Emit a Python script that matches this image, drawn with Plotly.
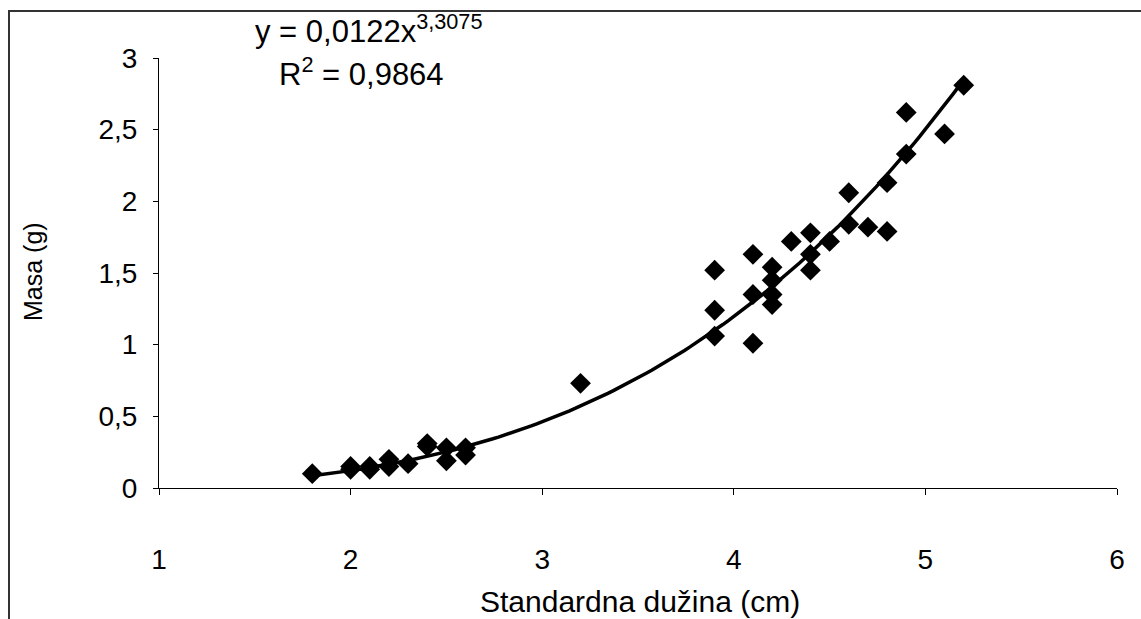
import numpy as np
import plotly.graph_objects as go

# Observed data: standard length (cm) vs mass (g)
length_cm = [1.8, 2.0, 2.0, 2.1, 2.1, 2.2, 2.2, 2.3, 2.4, 2.4, 2.5, 2.5, 2.6, 2.6,
             3.2,
             3.9, 3.9, 3.9,
             4.1, 4.1, 4.1,
             4.2, 4.2, 4.2, 4.2,
             4.3,
             4.4, 4.4, 4.4,
             4.5,
             4.6, 4.6,
             4.7,
             4.8, 4.8,
             4.9, 4.9,
             5.1,
             5.2]
mass_g = [0.10, 0.15, 0.13, 0.15, 0.13, 0.20, 0.15, 0.17, 0.31, 0.29, 0.28, 0.19, 0.28, 0.23,
          0.73,
          1.52, 1.24, 1.06,
          1.63, 1.35, 1.01,
          1.54, 1.45, 1.35, 1.28,
          1.72,
          1.78, 1.63, 1.52,
          1.72,
          2.06, 1.84,
          1.82,
          2.13, 1.79,
          2.62, 2.33,
          2.47,
          2.81]

# Power trendline as shown on chart
coef_a = 0.0122
coef_b = 3.3075
trend_x = np.linspace(min(length_cm), max(length_cm), 120)
trend_y = coef_a * trend_x ** coef_b

x_ticks = [1, 2, 3, 4, 5, 6]
x_ticktext = ["1", "2", "3", "4", "5", "6"]
y_ticks = [0, 0.5, 1, 1.5, 2, 2.5, 3]
y_ticktext = ["0", "0,5", "1", "1,5", "2", "2,5", "3"]

FONT = "Liberation Sans, Arial, sans-serif"
W, H = 1141, 619
L, R, T, B = 159, 24, 58, 131
PW, PH = W - L - R, H - T - B


def px_x(px):
    return (px - L) / PW


def px_y(py):
    return (H - B - py) / PH


fig = go.Figure()
fig.add_trace(go.Scatter(x=trend_x, y=trend_y, mode="lines",
                         line=dict(color="black", width=3.5), showlegend=False,
                         hoverinfo="skip"))
fig.add_trace(go.Scatter(x=length_cm, y=mass_g, mode="markers",
                         marker=dict(symbol="diamond", size=16, color="black"),
                         showlegend=False))

fig.update_layout(
    width=W, height=H,
    margin=dict(l=L, r=R, t=T, b=B),
    paper_bgcolor="white", plot_bgcolor="white",
    font=dict(family=FONT, size=25, color="black"),
    xaxis=dict(range=[1, 6], tickvals=x_ticks, ticktext=x_ticktext,
               showgrid=False, zeroline=False, showline=True, linecolor="black",
               linewidth=1, ticks="outside", ticklen=6, tickcolor="black",
               ticklabelstandoff=40, tickfont=dict(size=28)),
    yaxis=dict(range=[0, 3], tickvals=y_ticks, ticktext=y_ticktext,
               showgrid=False, zeroline=False, showline=True, linecolor="black",
               linewidth=1, ticks="outside", ticklen=5, tickcolor="black",
               ticklabelstandoff=10, tickfont=dict(size=28)),
    shapes=[dict(type="rect", xref="paper", yref="paper",
                 x0=px_x(9), x1=1.06, y0=-0.5, y1=px_y(11),
                 line=dict(color="#333333", width=2), fillcolor="rgba(0,0,0,0)",
                 layer="below")],
    annotations=[
        dict(text="y = 0,0122x<sup>3,3075</sup>", xref="paper", yref="paper",
             x=px_x(369), y=px_y(29), showarrow=False,
             font=dict(size=31), xanchor="center", yanchor="middle"),
        dict(text="R<sup>2</sup> = 0,9864", xref="paper", yref="paper",
             x=px_x(361), y=px_y(72), showarrow=False,
             font=dict(size=31), xanchor="center", yanchor="middle"),
        dict(text="Standardna dužina (cm)", xref="paper", yref="paper",
             x=px_x(640), y=px_y(601), showarrow=False,
             font=dict(size=30), xanchor="center", yanchor="middle"),
        dict(text="Masa (g)", xref="paper", yref="paper",
             x=px_x(33), y=px_y(272), showarrow=False, textangle=-90,
             font=dict(size=25), xanchor="center", yanchor="middle"),
    ],
)

fig.write_html("out.html", config={"displayModeBar": False},
               post_script="document.body.style.margin='0';document.body.style.overflow='hidden';")
